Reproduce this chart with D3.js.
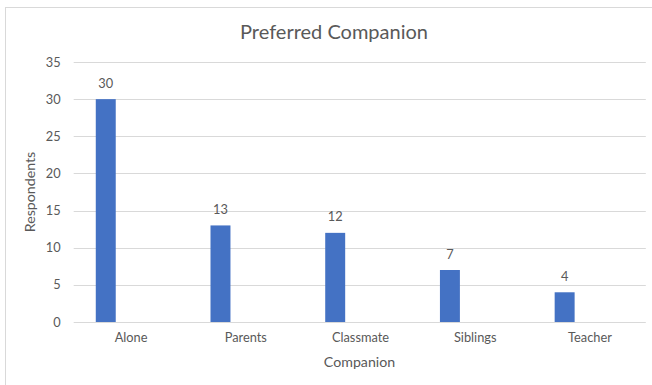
<!DOCTYPE html>
<html>
<head>
<meta charset="utf-8">
<script src="https://cdn.jsdelivr.net/npm/d3@7"></script>
<style>
  html, body { margin: 0; padding: 0; background: #fff; }
  svg { display: block; }
  text { font-family: Lato, "Open Sans", sans-serif; fill: #595959; }
</style>
</head>
<body>
<div id="chart"></div>
<script>
// Chart content
const chartTitle = "Preferred Companion";
const xTitle = "Companion";
const yTitle = "Respondents";
const categories = ["Alone", "Parents", "Classmate", "Siblings", "Teacher"];
const respondents = [30, 13, 12, 7, 4];
const yTicks = [0, 5, 10, 15, 20, 25, 30, 35];

const W = 652, H = 385;
const plot = { left: 73.7, right: 647.3, top: 62, bottom: 322 };
const tickFont = "12.8px";

const svg = d3.select("#chart").append("svg")
  .attr("width", W).attr("height", H);

// Chart area frame (only the left and top edges fall inside the view)
svg.append("rect")
  .attr("x", 5.5).attr("y", 7.5)
  .attr("width", W + 10).attr("height", H + 10)
  .attr("fill", "#fff")
  .attr("stroke", "#d9d9d9").attr("stroke-width", 1);

// Category axis band (labels centred per category)
const x = d3.scaleBand().domain(categories)
  .range([plot.left, plot.right]).padding(0);

// Bars sit in the first slot of each category group
const xBar = d3.scaleBand().domain(categories)
  .range([plot.left, plot.right])
  .paddingInner(0.826).paddingOuter(0.413).align(0.233);

const y = d3.scaleLinear().domain([0, 35]).range([plot.bottom, plot.top]);

// Gridlines
svg.append("g").selectAll("line").data(yTicks).join("line")
  .attr("x1", plot.left).attr("x2", plot.right - 1.5)
  .attr("y1", d => Math.round(y(d)) + 0.5).attr("y2", d => Math.round(y(d)) + 0.5)
  .attr("stroke", "#d9d9d9").attr("stroke-width", 1);

// Y axis tick labels
const yAxis = d3.axisLeft(y).tickValues(yTicks).tickSize(0).tickPadding(13);
const gy = svg.append("g")
  .attr("transform", `translate(${plot.left},0)`)
  .call(yAxis);
gy.select(".domain").remove();
gy.selectAll("text")
  .style("font-family", "Lato, 'Open Sans', sans-serif")
  .style("font-size", tickFont).attr("fill", "#595959");

// X axis tick labels
const xAxis = d3.axisBottom(x).tickSize(0).tickPadding(11);
const gx = svg.append("g")
  .attr("transform", `translate(0,${plot.bottom})`)
  .call(xAxis);
gx.select(".domain").remove();
gx.selectAll("text")
  .style("font-family", "Lato, 'Open Sans', sans-serif")
  .style("font-size", tickFont).attr("fill", "#595959");

// Bars
svg.append("g").selectAll("rect").data(categories).join("rect")
  .attr("x", d => xBar(d))
  .attr("width", xBar.bandwidth())
  .attr("y", (d, i) => y(respondents[i]))
  .attr("height", (d, i) => y(0) - y(respondents[i]))
  .attr("fill", "#4472c4");

// Data labels
svg.append("g").selectAll("text").data(categories).join("text")
  .attr("x", d => xBar(d) + xBar.bandwidth() / 2)
  .attr("y", (d, i) => y(respondents[i]) - 11.5)
  .attr("text-anchor", "middle")
  .style("font-size", tickFont)
  .text((d, i) => respondents[i]);

// Title
svg.append("text")
  .attr("x", 334).attr("y", 39)
  .attr("text-anchor", "middle")
  .style("font-size", "20px")
  .text(chartTitle);

// Axis titles
svg.append("text")
  .attr("x", (plot.left + plot.right) / 2 - 1).attr("y", 367)
  .attr("text-anchor", "middle")
  .style("font-size", "14.2px")
  .text(xTitle);

svg.append("text")
  .attr("transform", `translate(35,${(plot.top + plot.bottom) / 2}) rotate(-90)`)
  .attr("text-anchor", "middle")
  .style("font-size", "14.2px")
  .text(yTitle);
</script>
</body>
</html>
